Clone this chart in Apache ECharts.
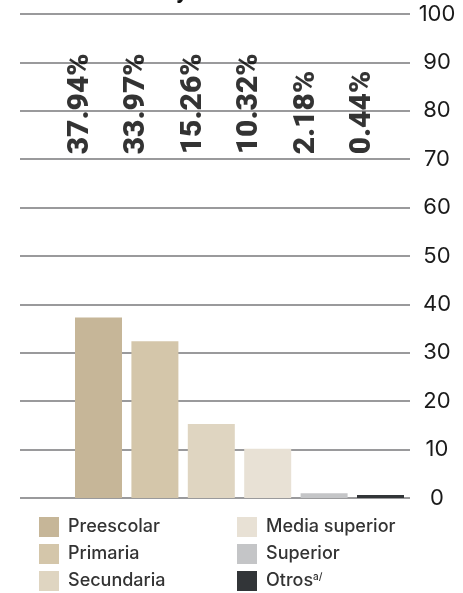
<!DOCTYPE html>
<html>
<head>
<meta charset="utf-8">
<script src="https://cdn.jsdelivr.net/npm/echarts@6/dist/echarts.min.js"></script>
<style>html,body{margin:0;padding:0;background:#fff}#c{width:463px;height:593px}</style>
</head>
<body>
<div id="c"></div>
<script>
var categories = ['Preescolar', 'Primaria', 'Secundaria', 'Media superior', 'Superior', 'Otros'];
var values = [37.3, 32.4, 15.3, 10.2, 1.0, 0.6];
var valueLabels = ['37.94%', '33.97%', '15.26%', '10.32%', '2.18%', '0.44%'];
var colors = ['#c6b698', '#d4c6aa', '#dfd5c1', '#e8e1d5', '#c4c5c7', '#323538'];
var yTicks = [0, 10, 20, 30, 40, 50, 60, 70, 80, 90, 100];
var labelLevel = 71;

var chart = echarts.init(document.getElementById('c'), null, {renderer: 'canvas'});

var barSeries = categories.map(function (name, i) {
  var d = categories.map(function (c, j) { return j === i ? values[i] : null; });
  return {
    name: name,
    type: 'bar',
    xAxisIndex: 1,
    yAxisIndex: 1,
    data: d,
    barWidth: 47,
    barGap: '-100%',
    itemStyle: {color: colors[i]},
    silent: true
  };
});

var labelSeries = {
  type: 'scatter',
  xAxisIndex: 1,
  yAxisIndex: 1,
  data: categories.map(function () { return labelLevel; }),
  symbolSize: 0,
  silent: true,
  label: {
    show: true,
    position: 'inside',
    rotate: 90,
    align: 'left',
    verticalAlign: 'middle',
    offset: [0, -18],
    fontFamily: 'Roboto',
    fontWeight: 900,
    fontSize: 30,
    color: '#000',
    formatter: function (p) { return valueLabels[p.dataIndex]; }
  }
};

var legendCommon = {
  orient: 'vertical',
  icon: 'rect',
  itemWidth: 20,
  itemHeight: 20,
  itemGap: 7,
  padding: 0,
  top: 517,
  height: 80,
  selectedMode: false,
  textStyle: {
    fontFamily: 'Inter',
    fontWeight: 500,
    fontSize: 18,
    color: '#333',
    padding: [0, 0, 0, 4],
    rich: {
      sup: {fontSize: 10, verticalAlign: 'top', color: '#333', fontFamily: 'Inter', fontWeight: 500, padding: [0, 0, 8, 0]}
    }
  },
  formatter: function (n) { return n === 'Otros' ? 'Otros{sup|a/}' : n; }
};

chart.setOption({
  animation: false,
  backgroundColor: '#fff',
  title: {
    text: 'y',
    left: 171,
    top: -25,
    textStyle: {fontFamily: 'Roboto', fontWeight: 'bold', fontSize: 24, color: '#111'}
  },
  legend: [
    Object.assign({}, legendCommon, {left: 39, data: categories.slice(0, 3)}),
    Object.assign({}, legendCommon, {left: 237, data: categories.slice(3)})
  ],
  grid: [
    {left: 20, right: 53, top: 14, bottom: 95},
    {left: 70.3, right: 54.3, top: 14, bottom: 95}
  ],
  xAxis: [
    {type: 'category', gridIndex: 0, data: categories, show: false},
    {type: 'category', gridIndex: 1, data: categories, show: false}
  ],
  yAxis: [
    {
      type: 'value', gridIndex: 0, position: 'right', min: 0, max: 100, interval: 10,
      axisLine: {show: false}, axisTick: {show: false},
      splitLine: {show: true, lineStyle: {color: '#9a9a9c', width: 2}},
      axisLabel: {
        margin: 27, align: 'center', fontFamily: 'Inter', fontSize: 22, color: '#1a1a1a',
        formatter: function (v) { return yTicks.indexOf(v) >= 0 ? String(v) : ''; }
      }
    },
    {type: 'value', gridIndex: 1, min: 0, max: 100, interval: 10, show: false}
  ],
  series: barSeries.concat([labelSeries])
});
</script>
</body>
</html>
